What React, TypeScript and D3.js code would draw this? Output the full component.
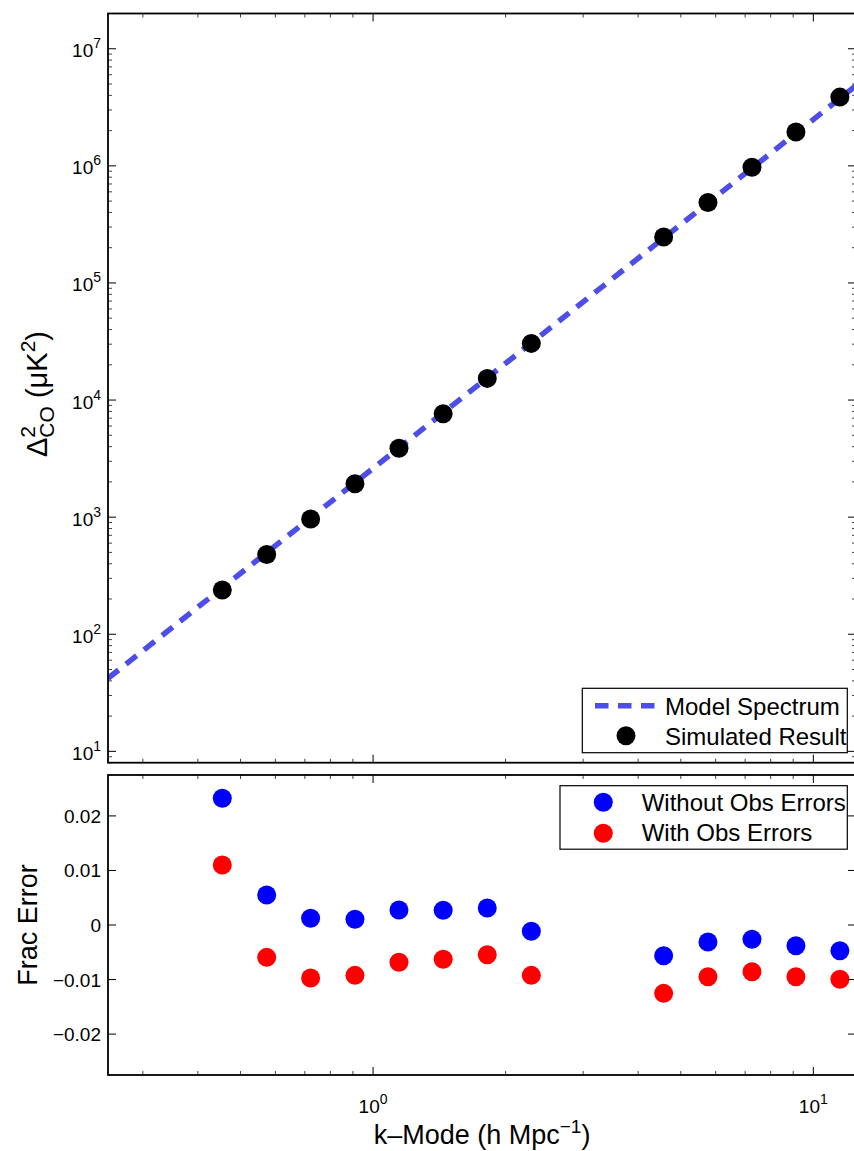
import React from "react";
import * as d3 from "d3";

// Wavenumber bins (h/Mpc)
const kModes = [0.4545, 0.5733, 0.7214, 0.9097, 1.145, 1.443, 1.817, 2.288, 4.571, 5.763, 7.255, 9.13, 11.49];
// Simulated CO power spectrum Δ² (μK²)
const simulated = [239, 480, 966, 1932, 3873, 7643, 15310, 30460, 247200, 485600, 971500, 1944000, 3865000];
// Model spectrum evaluated at the ends of the k range
const modelK = [0.25, 12.5];
const modelDelta = [42, 4840000];
// Fractional errors
const fracNoObs = [0.02325, 0.0055, 0.00123, 0.00105, 0.00275, 0.0027, 0.00312, -0.00116, -0.00563, -0.00312, -0.00262, -0.0038, -0.00472];
const fracWithObs = [0.011, -0.00593, -0.00972, -0.00923, -0.00684, -0.00629, -0.00545, -0.00923, -0.01253, -0.00949, -0.00857, -0.00949, -0.00996];
// Axis tick values
const fracTicks = [-0.02, -0.01, 0, 0.01, 0.02];
const fracTickLabels = ["\u22120.02", "\u22120.01", "0", "0.01", "0.02"];
const legendTop = ["Model Spectrum", "Simulated Result"];
const legendBottom = ["Without Obs Errors", "With Obs Errors"];

const W = 854;
const H = 1151;
const FONT = '"Liberation Sans", Arial, Helvetica, sans-serif';
const LEFT = 108;
const RIGHT = 856;
const TOP1 = 13.5;
const BOT1 = 762.7;
const TOP2 = 775;
const BOT2 = 1075;
const MODEL_COLOR = "#4d4de8";

const x = d3.scaleLog().domain([0.25, 12.5]).range([LEFT, RIGHT]);
const yTop = d3.scaleLog().domain([8, 2e7]).range([BOT1, TOP1]);
const yBot = d3.scaleLinear().domain([-0.0275, 0.0275]).range([BOT2, TOP2]);

const isPow10 = (v: number) => Math.abs(Math.log10(v) - Math.round(Math.log10(v))) < 1e-9;

const xTicks = x.ticks();
const yTopTicks = yTop.ticks();

function PowLabel({ px, py, exp, anchor }: { px: number; py: number; exp: number; anchor: string }) {
  return (
    <text x={px} y={py} textAnchor={anchor} fontSize={19} fontFamily={FONT} fill="#000">
      10
      <tspan dy={-9} fontSize={14}>
        {exp}
      </tspan>
    </text>
  );
}

function XTicks({ top, bottom }: { top: number; bottom: number }) {
  return (
    <g>
      {xTicks.map((t, i) => {
        const major = isPow10(t);
        const len = major ? 8 : 4;
        const px = x(t);
        const stroke = major ? "#000" : "#444";
        return (
          <g key={i}>
            <line x1={px} x2={px} y1={top} y2={top + len} stroke={stroke} strokeWidth={1} />
            <line x1={px} x2={px} y1={bottom} y2={bottom - len} stroke={stroke} strokeWidth={1} />
          </g>
        );
      })}
    </g>
  );
}

export default function App() {
  const line = d3
    .line<number>()
    .x((_, i) => x(modelK[i]))
    .y((d) => yTop(d));

  return (
    <svg
      width={W}
      height={H}
      viewBox={`0 0 ${W} ${H}`}
      style={{ position: "absolute", left: 0, top: 0, background: "#fff" }}
    >
      <defs>
        <clipPath id="clipTop">
          <rect x={LEFT} y={TOP1} width={RIGHT - LEFT} height={BOT1 - TOP1} />
        </clipPath>
        <clipPath id="clipBot">
          <rect x={LEFT} y={TOP2} width={RIGHT - LEFT} height={BOT2 - TOP2} />
        </clipPath>
      </defs>
      <rect x={0} y={0} width={W} height={H} fill="#fff" />

      {/* ---------- Top panel: power spectrum ---------- */}
      <g clipPath="url(#clipTop)">
        <path
          d={line(modelDelta) || ""}
          fill="none"
          stroke={MODEL_COLOR}
          strokeWidth={5.5}
          strokeDasharray="13.5,9.5"
        />
        {kModes.map((k, i) => (
          <circle key={i} cx={x(k)} cy={yTop(simulated[i])} r={9.5} fill="#000" />
        ))}
      </g>

      {/* y ticks (log) */}
      {yTopTicks.map((t, i) => {
        const major = isPow10(t);
        const len = major ? 8 : 4;
        const py = yTop(t);
        const stroke = major ? "#000" : "#444";
        return (
          <g key={i}>
            <line x1={LEFT} x2={LEFT + len} y1={py} y2={py} stroke={stroke} strokeWidth={1} />
            <line x1={RIGHT} x2={RIGHT - len} y1={py} y2={py} stroke={stroke} strokeWidth={1} />
            {major && (
              <PowLabel px={101} py={py + 8.5} exp={Math.round(Math.log10(t))} anchor="end" />
            )}
          </g>
        );
      })}
      <XTicks top={TOP1} bottom={BOT1} />
      <rect x={LEFT} y={TOP1} width={RIGHT - LEFT} height={BOT1 - TOP1} fill="none" stroke="#000" strokeWidth={1.8} />

      {/* legend top */}
      <g fontFamily={FONT} fontSize={24}>
        <rect x={582.3} y={688.3} width={265} height={64.4} fill="#fff" stroke="#000" strokeWidth={1.2} />
        <line x1={595} x2={656} y1={705.7} y2={705.7} stroke={MODEL_COLOR} strokeWidth={5.5} strokeDasharray="13.5,9.5" />
        <text x={665} y={715}>{legendTop[0]}</text>
        <circle cx={626} cy={735.7} r={9.5} fill="#000" />
        <text x={665} y={744.5}>{legendTop[1]}</text>
      </g>

      {/* y label top */}
      <text
        transform="translate(47,394) rotate(-90)"
        textAnchor="middle"
        fontFamily={FONT}
        fontSize={29}
        fill="#000"
      >
        Δ
        <tspan dy={-12} fontSize={21}>2</tspan>
        <tspan dx={-11.7} dy={19} fontSize={21}>CO</tspan>
        <tspan dy={-7}> (μK</tspan>
        <tspan dy={-12} fontSize={21}>2</tspan>
        <tspan dy={12}>)</tspan>
      </text>

      {/* ---------- Bottom panel: fractional error ---------- */}
      <g clipPath="url(#clipBot)">
        {kModes.map((k, i) => (
          <circle key={"b" + i} cx={x(k)} cy={yBot(fracNoObs[i])} r={9.5} fill="#0000ff" />
        ))}
        {kModes.map((k, i) => (
          <circle key={"r" + i} cx={x(k)} cy={yBot(fracWithObs[i])} r={9.5} fill="#ff0000" />
        ))}
      </g>

      {fracTicks.map((t, i) => {
        const py = yBot(t);
        return (
          <g key={i}>
            <line x1={LEFT} x2={LEFT + 8} y1={py} y2={py} stroke="#000" strokeWidth={1} />
            <line x1={RIGHT} x2={RIGHT - 8} y1={py} y2={py} stroke="#000" strokeWidth={1} />
            <text x={101} y={py + 7} textAnchor="end" fontFamily={FONT} fontSize={19} fill="#000">
              {fracTickLabels[i]}
            </text>
          </g>
        );
      })}
      <XTicks top={TOP2} bottom={BOT2} />
      {xTicks.filter(isPow10).map((t, i) => (
        <PowLabel key={i} px={x(t)} py={BOT2 + 38} exp={Math.round(Math.log10(t))} anchor="middle" />
      ))}
      <rect x={LEFT} y={TOP2} width={RIGHT - LEFT} height={BOT2 - TOP2} fill="none" stroke="#000" strokeWidth={1.8} />

      {/* legend bottom */}
      <g fontFamily={FONT} fontSize={24}>
        <rect x={560} y={785.7} width={287.3} height={63.5} fill="#fff" stroke="#000" strokeWidth={1.2} />
        <circle cx={603.3} cy={802.3} r={9.5} fill="#0000ff" />
        <text x={641.7} y={810.5}>{legendBottom[0]}</text>
        <circle cx={603.3} cy={833.3} r={9.5} fill="#ff0000" />
        <text x={641.7} y={841}>{legendBottom[1]}</text>
      </g>

      {/* y label bottom */}
      <text
        transform="translate(37,925) rotate(-90)"
        textAnchor="middle"
        fontFamily={FONT}
        fontSize={27}
        fill="#000"
      >
        Frac Error
      </text>

      {/* x label */}
      <text x={482} y={1144} textAnchor="middle" fontFamily={FONT} fontSize={27} fill="#000">
        k–Mode (h Mpc
        <tspan dy={-11} fontSize={19}>−1</tspan>
        <tspan dy={11}>)</tspan>
      </text>
    </svg>
  );
}
